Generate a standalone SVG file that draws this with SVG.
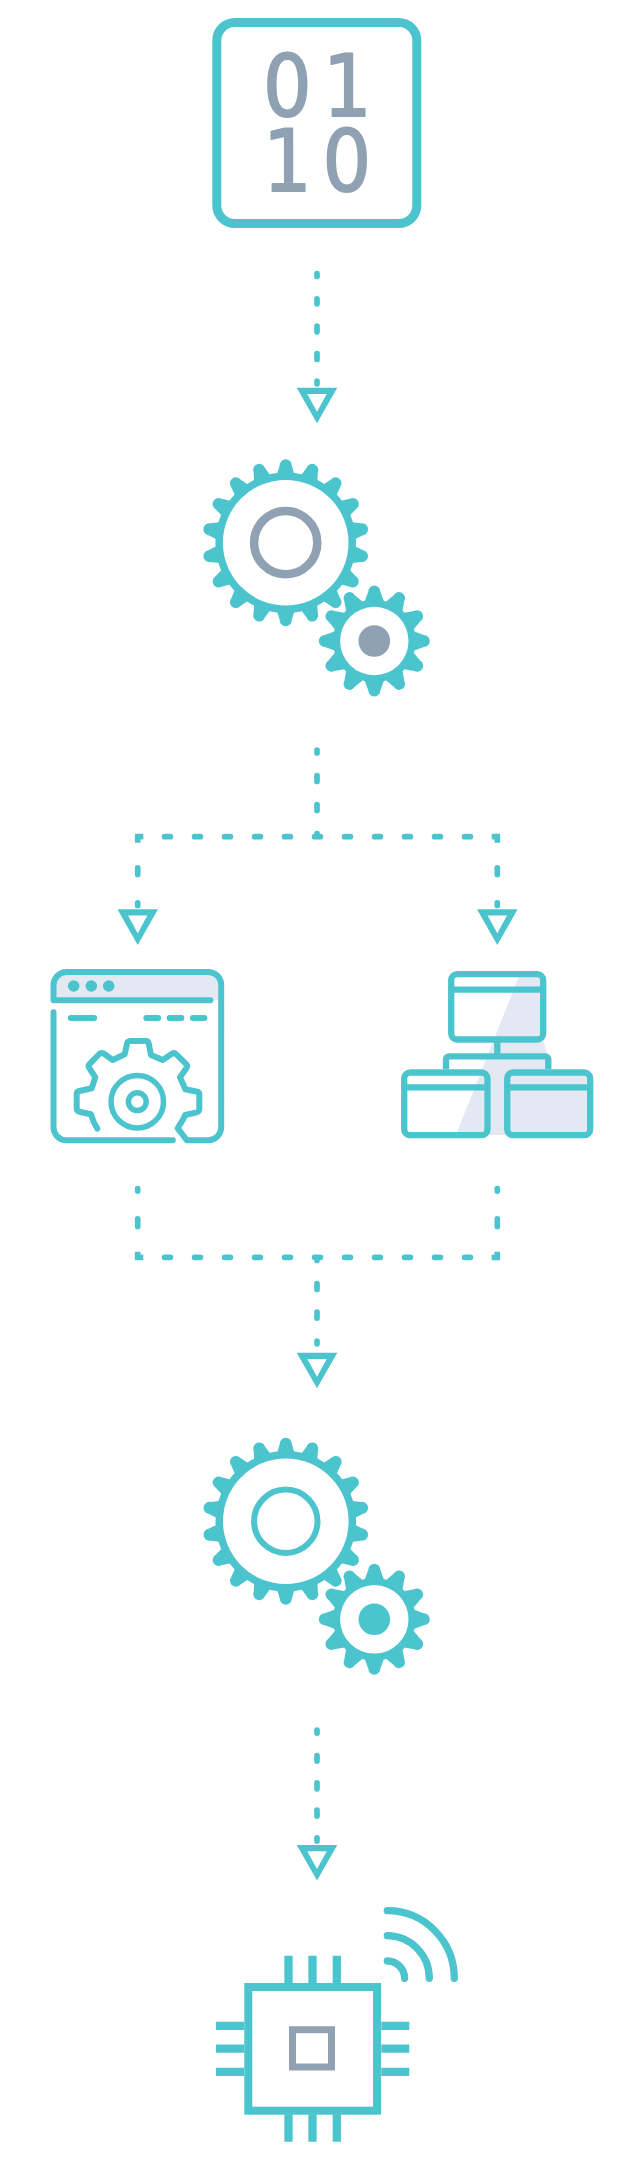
<svg xmlns="http://www.w3.org/2000/svg" width="624" height="2160" viewBox="0 0 624 2160">
<style>
.t{fill:#4cc4ce}
.g{fill:#8fa1b3}
.w{fill:#fff}
.l{fill:#e2e9f2}
.s{fill:none;stroke:#4cc4ce;stroke-linecap:round;stroke-linejoin:round}
.p{fill:none;stroke:#4cc4ce;stroke-width:8.3}
.d{fill:none;stroke:#4cc4ce;stroke-width:5.7;stroke-linecap:round;stroke-linejoin:miter}
.digits{font-family:"DejaVu Sans Condensed","DejaVu Sans",sans-serif;font-stretch:condensed;font-size:85px;fill:#8fa1b3;stroke:#8fa1b3;stroke-width:1.8;stroke-linejoin:round}
</style>
<defs>
<path id="arrowhead" class="t" fill-rule="evenodd" d="M-20.3 0H20.3L0 35.6ZM-9.7 6.3H9.7L0 24Z"/>
<path id="tb" class="t" d="M-8.5-69L-6-77.5A6 6 0 0 1 6-77.5L8.5-69Z"/>
<path id="ts" class="t" d="M-9.5-40L-6-49.5A6 6 0 0 1 6-49.5L9.5-40Z"/>
<g id="big">
<use href="#tb"/><use href="#tb" transform="rotate(20)"/><use href="#tb" transform="rotate(40)"/><use href="#tb" transform="rotate(60)"/><use href="#tb" transform="rotate(80)"/><use href="#tb" transform="rotate(100)"/><use href="#tb" transform="rotate(120)"/><use href="#tb" transform="rotate(140)"/><use href="#tb" transform="rotate(160)"/><use href="#tb" transform="rotate(180)"/><use href="#tb" transform="rotate(200)"/><use href="#tb" transform="rotate(220)"/><use href="#tb" transform="rotate(240)"/><use href="#tb" transform="rotate(260)"/><use href="#tb" transform="rotate(280)"/><use href="#tb" transform="rotate(300)"/><use href="#tb" transform="rotate(320)"/><use href="#tb" transform="rotate(340)"/>
<circle class="t" r="70.3"/><circle class="w" r="62.8"/>
</g>
<g id="small">
<use href="#ts"/><use href="#ts" transform="rotate(30)"/><use href="#ts" transform="rotate(60)"/><use href="#ts" transform="rotate(90)"/><use href="#ts" transform="rotate(120)"/><use href="#ts" transform="rotate(150)"/><use href="#ts" transform="rotate(180)"/><use href="#ts" transform="rotate(210)"/><use href="#ts" transform="rotate(240)"/><use href="#ts" transform="rotate(270)"/><use href="#ts" transform="rotate(300)"/><use href="#ts" transform="rotate(330)"/>
<circle class="t" r="41.5"/><circle class="w" r="34.2"/>
</g>
</defs>

<g id="connectors">
<path class="d" d="M317 273.5V276.5M317 298.9V303.8M317 326.2V331.8M317 353.5V359.5M317 381.2V383.8"/>
<use href="#arrowhead" x="317" y="387.7"/>
<path class="d" d="M317 750.2V752.9M317 775.6V781.4M317 804.6V810.4M317 836.7V833.6M164.6 836.7H170.4M194.6 836.7H200.4M224.6 836.7H230.4M254.6 836.7H260.4M284.6 836.7H290.4M314.6 836.7H320.4M344.6 836.7H350.4M374.6 836.7H380.4M404.6 836.7H410.4M434.6 836.7H440.4M464.6 836.7H470.4"/>
<path class="d" style="stroke-linecap:butt" d="M143.3 836.7H137.7V842.7"/>
<path class="d" style="stroke-linecap:butt" d="M491.7 836.7H497.3V842.7"/>
<path class="d" d="M137.7 867.9V874.4M137.7 902.9V905.4M497.3 867.9V874.4M497.3 902.9V905.4"/>
<use href="#arrowhead" x="137.7" y="909.3"/>
<use href="#arrowhead" x="497.3" y="909.3"/>
<path class="d" d="M137.7 1188.6V1191.1M137.7 1218.9V1226.4M497.3 1188.6V1191.1M497.3 1218.9V1226.4M164.6 1257.3H170.4M194.6 1257.3H200.4M224.6 1257.3H230.4M254.6 1257.3H260.4M284.6 1257.3H290.4M314.6 1257.3H320.4M344.6 1257.3H350.4M374.6 1257.3H380.4M404.6 1257.3H410.4M434.6 1257.3H440.4M464.6 1257.3H470.4M317 1257.3V1260.4M317 1283.6V1289.4M317 1312.2V1318.1M317 1341.2V1343.8"/>
<path class="d" style="stroke-linecap:butt" d="M143.3 1257.3H137.7V1251.7"/>
<path class="d" style="stroke-linecap:butt" d="M491.7 1257.3H497.3V1251.7"/>
<use href="#arrowhead" x="317" y="1352.7"/>
<path class="d" d="M317 1730.2V1733.1M317 1755.6V1761.1M317 1782.9V1788.8M317 1810.2V1816.1M317 1837.9V1841.1"/>
<use href="#arrowhead" x="317" y="1845"/>
</g>

<g id="data">
<rect x="216.8" y="22.5" width="200" height="201" rx="18" fill="#fff" stroke="#4cc4ce" stroke-width="9"/>
<text class="digits"><tspan y="116.2" x="263 323">01</tspan><tspan y="191.2" x="263 322.5">10</tspan></text>
</g>

<g id="gears-1">
<use href="#big" x="285.7" y="542.7"/>
<circle cx="285.7" cy="542.7" r="31.6" fill="none" stroke="#8fa1b3" stroke-width="8.5"/>
<use href="#small" x="374.3" y="641"/>
<circle class="g" cx="374.3" cy="641" r="15.8"/>
</g>

<g id="window">
<path class="l" d="M53.5 1000.3V985A13 13 0 0 1 66.5 972H208A13 13 0 0 1 221.2 985V1000.3Z"/>
<path class="s" stroke-width="6" d="M210.4 1000.3H53.5V985A13 13 0 0 1 66.5 972H208A13 13 0 0 1 221.2 985V1127A13 13 0 0 1 208 1140.3H187L177.7 1128.3L182.7 1120L185.3 1115L196.7 1112.3Q199.3 1111.6 199.3 1109.3V1094.3Q199.3 1092.2 197.3 1091.7L185.3 1089.3L180 1077.3L186.7 1067.7Q187.6 1066 186.7 1064.7L176 1054Q174.4 1052.4 172.7 1053.3L162.7 1060L151 1055L148.7 1043.3Q148.2 1041 146 1041H130.7Q128 1041 127.3 1042.7L124.7 1054.3L112.7 1060L103.3 1053.3Q101 1052.4 99.3 1054L89 1064.7Q88.1 1066 89 1067.7L95.3 1077.3L91.7 1088.3L79.3 1091Q76.7 1091.7 76.7 1094V1108.3Q76.7 1111 79.3 1111.7L91 1114.3Q93 1122 97.3 1128.7"/>
<path class="s" stroke-width="6" d="M53.5 1012.2V1127A13 13 0 0 0 66.5 1140.3H172.8M70.9 1018H94.1M146.3 1018H158.1M169.6 1018H181.4M192.9 1018H204.4"/>
<circle class="t" cx="73.7" cy="986" r="5.8"/><circle class="t" cx="91.3" cy="986" r="5.8"/><circle class="t" cx="108.7" cy="986" r="5.8"/>
<circle cx="137.3" cy="1101.7" r="26.2" fill="none" stroke="#4cc4ce" stroke-width="5.5"/>
<circle cx="137.3" cy="1101.7" r="8.9" fill="none" stroke="#4cc4ce" stroke-width="5.5"/>
</g>

<g id="network">
<path class="l" d="M519.5 975H543V1040L548 1056V1072H590V1135H456Z"/>
<g fill="none" stroke="#4cc4ce" stroke-width="6.3">
<rect x="451.2" y="974.2" width="92" height="65.3" rx="6"/>
<path d="M451.2 989.7H543.2M497.3 1039.5V1056.3M446 1069V1059.3A3 3 0 0 1 449 1056.3H545.3A3 3 0 0 1 548.3 1059.3V1069"/>
<rect x="404.2" y="1072.5" width="83.3" height="62.7" rx="6"/>
<path d="M404.2 1087.3H487.5"/>
<rect x="507.2" y="1072.5" width="83" height="62.7" rx="6"/>
<path d="M507.2 1087.3H590.2"/>
</g>
</g>

<g id="gears-2">
<use href="#big" x="285.8" y="1521.3"/>
<circle cx="285.8" cy="1521.3" r="31.7" fill="none" stroke="#4cc4ce" stroke-width="6"/>
<use href="#small" x="374.3" y="1619.3"/>
<circle class="t" cx="374.3" cy="1619.3" r="15.8"/>
</g>

<g id="chip">
<rect x="248.3" y="1987" width="128.7" height="123.7" fill="none" stroke="#4cc4ce" stroke-width="8"/>
<path class="p" d="M288.5 1955.7V1983M312.5 1955.7V1983M336.8 1955.7V1983M288.5 2114.3V2141.7M312.5 2114.3V2141.7M336.8 2114.3V2141.7M216 2025.8H244.3M216 2048.7H244.3M216 2071.8H244.3M381.3 2025.8H409.3M381.3 2048.7H409.3M381.3 2071.8H409.3"/>
<rect x="292.5" y="2029.7" width="39" height="37.3" fill="none" stroke="#8fa1b3" stroke-width="7"/>
<path class="s" stroke-width="7.3" d="M387.3 1910.7A67 67.6 0 0 1 454.3 1978.3M387.3 1935.7A42.3 42.6 0 0 1 429.3 1978.3M387.3 1961A17.3 17.3 0 0 1 404.6 1978.3"/>
</g>
</svg>
